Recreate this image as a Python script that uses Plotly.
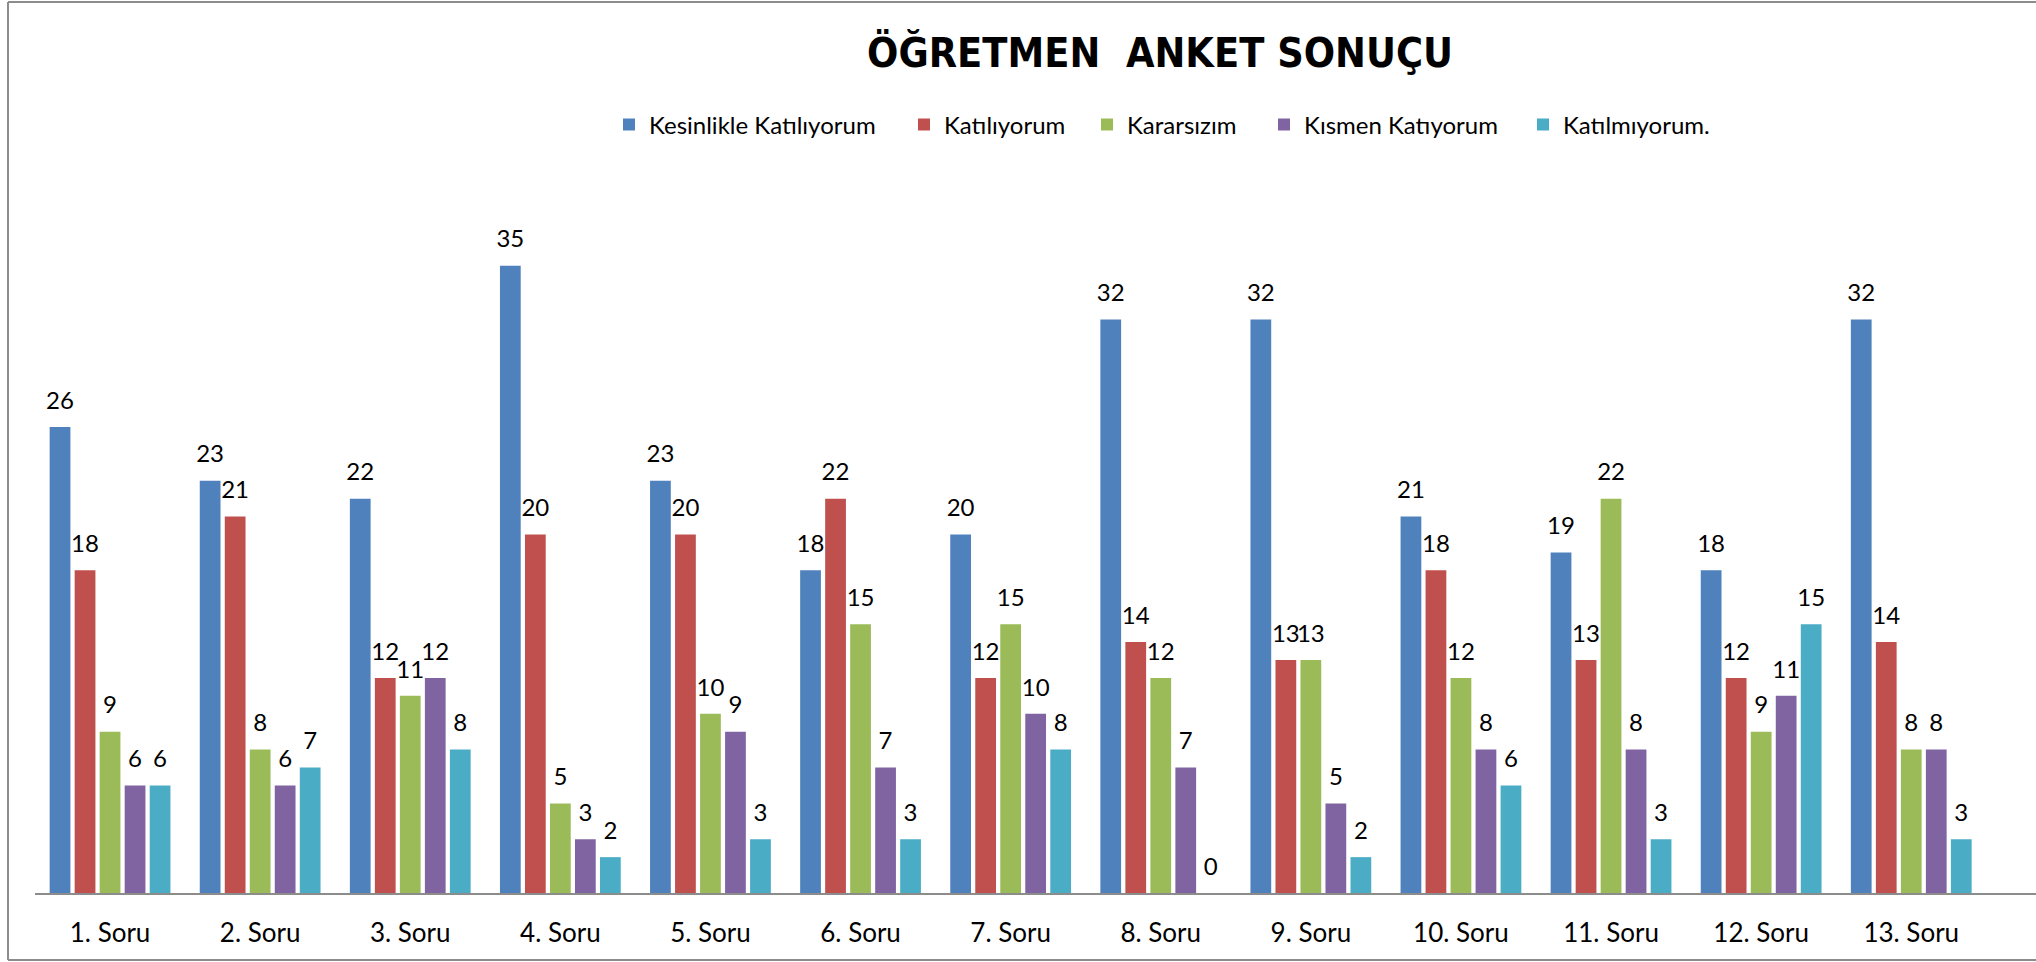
import plotly.graph_objects as go

categories = ["1. Soru", "2. Soru", "3. Soru", "4. Soru", "5. Soru", "6. Soru", "7. Soru",
              "8. Soru", "9. Soru", "10. Soru", "11. Soru", "12. Soru", "13. Soru"]

series_names = ["Kesinlikle Katılıyorum", "Katılıyorum", "Kararsızım", "Kısmen Katıyorum", "Katılmıyorum."]

kesinlikle = [26, 23, 22, 35, 23, 18, 20, 32, 32, 21, 19, 18, 32]
katiliyorum = [18, 21, 12, 20, 20, 22, 12, 14, 13, 18, 13, 12, 14]
kararsizim = [9, 8, 11, 5, 10, 15, 15, 12, 13, 12, 22, 9, 8]
kismen = [6, 6, 12, 3, 9, 7, 10, 7, 5, 8, 8, 11, 8]
katilmiyorum = [6, 7, 8, 2, 3, 3, 8, 0, 2, 6, 3, 15, 3]

colors = ["#4F81BD", "#C0504D", "#9BBB59", "#8064A2", "#4BACC6"]

FONT = "Lato, 'Open Sans', sans-serif"

W, H = 2036, 962
L, R, T, B = 35, 0, 176, 69
plot_w = W - L - R
plot_h = H - T - B


def px_x(x):
    return (x - L) / plot_w


def px_y(y):
    return (H - B - y) / plot_h


legend_marker_px = [623, 918, 1101, 1278, 1537]
legend_ids = ["legend", "legend2", "legend3", "legend4", "legend5"]

fig = go.Figure()
xs = list(range(len(categories)))
all_vals = [kesinlikle, katiliyorum, kararsizim, kismen, katilmiyorum]
for i, (name, vals, col) in enumerate(zip(series_names, all_vals, colors)):
    fig.add_trace(go.Bar(
        x=xs, y=vals, name=name,
        marker=dict(color=col, line=dict(width=0)),
        legend=legend_ids[i],
    ))
for i, vals in enumerate(all_vals):
    fig.add_trace(go.Scatter(
        x=xs, y=vals, mode="markers+text", text=[str(v) for v in vals],
        textposition="top center",
        textfont=dict(family=FONT, size=24, color="black"),
        marker=dict(size=18, color="rgba(0,0,0,0)"),
        showlegend=False, hoverinfo="skip", cliponaxis=False,
    ))

legend_common = dict(orientation="h", xanchor="left", yanchor="middle",
                     font=dict(family=FONT, size=24, color="black"),
                     bgcolor="rgba(0,0,0,0)", itemwidth=30)
legends = {}
for lid, mx in zip(legend_ids, legend_marker_px):
    legends[lid] = dict(legend_common, x=px_x(mx - 14), y=px_y(125))

fig.update_layout(
    width=W, height=H,
    margin=dict(l=L, r=R, t=T, b=B),
    paper_bgcolor="white", plot_bgcolor="white",
    barmode="group", bargap=0.167, bargroupgap=0.17,
    scattermode="group", scattergap=0.167,
    title=dict(text="<b>ÖĞRETMEN  ANKET SONUÇU</b>", x=1160 / W, xanchor="center",
               y=1 - 53 / H, yanchor="middle", yref="container", xref="container",
               font=dict(family="'Liberation Sans Narrow', 'DejaVu Sans Condensed', sans-serif",
                         size=41, color="black")),
    xaxis=dict(tickmode="array", tickvals=xs, ticktext=categories,
               range=[-0.5, -0.5 + plot_w / 150.1], showgrid=False, zeroline=False,
               showline=True, linecolor="#8C8C8C", linewidth=2, ticks="",
               tickfont=dict(family=FONT, size=26, color="black"), ticklabelstandoff=16),
    yaxis=dict(range=[0, 40], visible=False, showgrid=False, zeroline=False),
    showlegend=True,
    **legends,
)

# chart border (left, top, bottom)
border = dict(color="#8C8C8C", width=2)
x0 = px_x(8)
yt = px_y(2)
yb = px_y(960)
fig.add_shape(type="line", xref="paper", yref="paper", x0=x0, x1=x0, y0=yb, y1=yt, line=border)
fig.add_shape(type="line", xref="paper", yref="paper", x0=x0, x1=1.0, y0=yt, y1=yt, line=border)
fig.add_shape(type="line", xref="paper", yref="paper", x0=x0, x1=1.0, y0=yb, y1=yb, line=border)

fig.write_html("out.html")
